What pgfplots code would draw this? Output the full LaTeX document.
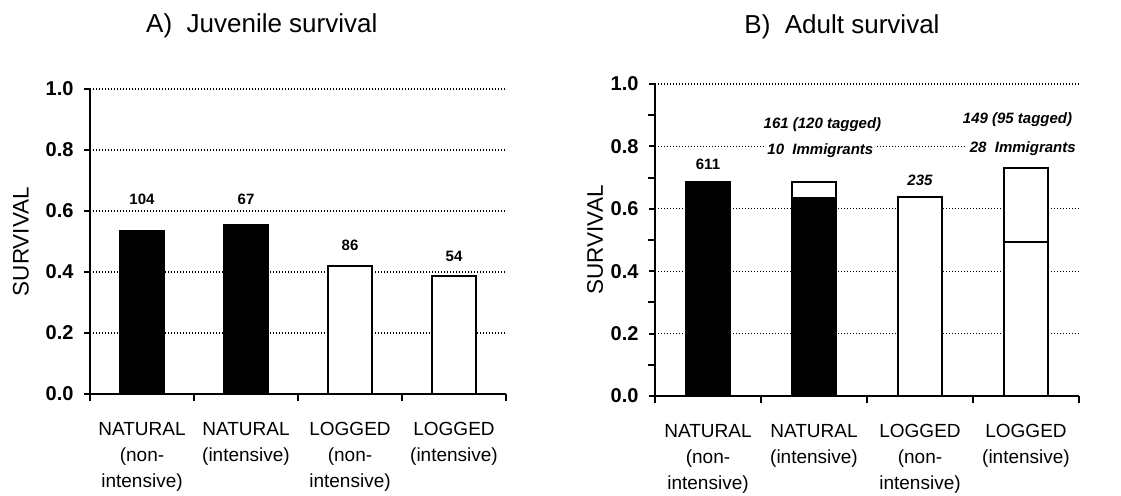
\documentclass[border=0pt]{standalone}
\usepackage{fontspec}
\setmainfont{Liberation Sans}
\usepackage{pgfplots}
\pgfplotsset{compat=1.18}
\begin{document}
\begin{tikzpicture}
\pgfplotsset{
  survax/.style={
    scale only axis,
    clip=false,
    axis x line=bottom, axis y line=left,
    axis line style={-, line width=2.2bp, black},
    xmin=0.5, xmax=4.5, ymin=0, ymax=1,
    xtick={1,2,3,4},
    xticklabels={{NATURAL\\(non-\\intensive)},{NATURAL\\(intensive)},{LOGGED\\(non-\\intensive)},{LOGGED\\(intensive)}},
    major x tick style={draw=none},
    minor xtick={0.5,1.5,2.5,3.5,4.5},
    minor x tick style={draw=black, line width=2bp},
    tick align=outside,
    major tick length=6bp,
    minor tick length=7bp,
    ytick={0,0.2,0.4,0.6,0.8,1.0},
    major y tick style={draw=black, line width=2bp},
    /pgf/number format/assume math mode=true,
    yticklabel style={font=\fontsize{20bp}{24bp}\selectfont\bfseries, xshift=-7bp, /pgf/number format/.cd, fixed, fixed zerofill, precision=1},
    xticklabel style={font=\fontsize{19bp}{26bp}\selectfont, align=center, yshift=-19bp},
    ymajorgrids,
    major grid style={black, line width=1.1bp, dash pattern=on 1.3bp off 1.7bp},
    ylabel={SURVIVAL},
    ylabel style={font=\fontsize{22.5bp}{24bp}\selectfont, anchor=center},
    title style={font=\fontsize{26bp}{30bp}\selectfont, anchor=base},
  },
  barblack/.style={ybar, bar width=44bp, bar shift=0pt, fill=black, draw=black, line width=2bp},
  barwhite/.style={ybar, bar width=44bp, bar shift=0pt, fill=white, draw=black, line width=2bp},
}
% Panel A
\begin{axis}[survax, at={(90bp,102bp)}, anchor=south west, width=416bp, height=305bp,
  title={A)\ \ Juvenile survival},
  title style={at={(axis description cs:0.413,1.164)}},
  ylabel style={at={(axis description cs:-0.166,0.5)}},
]
\addplot[barblack] coordinates {(1,0.534) (2,0.554)};
\addplot[barwhite] coordinates {(3,0.420) (4,0.388)};
\node[font=\fontsize{15bp}{18bp}\selectfont\bfseries] at (axis cs:1,0.639) {104};
\node[font=\fontsize{15bp}{18bp}\selectfont\bfseries] at (axis cs:2,0.639) {67};
\node[font=\fontsize{15bp}{18bp}\selectfont\bfseries] at (axis cs:3,0.486) {86};
\node[font=\fontsize{15bp}{18bp}\selectfont\bfseries] at (axis cs:4,0.451) {54};
\end{axis}
% Panel B
\begin{axis}[survax, at={(655bp,100bp)}, anchor=south west, width=424bp, height=312bp,
  title={B)\ \ Adult survival},
  title style={at={(axis description cs:0.441,1.144)}},
  ylabel style={at={(axis description cs:-0.1415,0.5)}},
  minor ytick={0.1,0.3,0.5,0.7,0.9},
  minor y tick style={draw=black, line width=2bp},
]
\addplot[barblack] coordinates {(1,0.686)};
\addplot[barwhite] coordinates {(2,0.686) (3,0.638) (4,0.730)};
\addplot[barblack] coordinates {(2,0.636)};
\addplot[barwhite] coordinates {(4,0.495)};
\node[font=\fontsize{15bp}{18bp}\selectfont\bfseries] at (axis cs:1,0.741) {611};
\node[font=\fontsize{15bp}{18bp}\selectfont\bfseries\itshape] at (axis cs:3,0.692) {235};
\node[font=\fontsize{15bp}{18bp}\selectfont\bfseries\itshape, fill=white, inner sep=3bp] at (axis cs:2.08,0.870) {161 (120 tagged)};
\node[font=\fontsize{15bp}{18bp}\selectfont\bfseries\itshape, fill=white, inner sep=3bp] at (axis cs:2.06,0.785) {10\ \ Immigrants};
\node[font=\fontsize{15bp}{18bp}\selectfont\bfseries\itshape, fill=white, inner sep=3bp] at (axis cs:3.92,0.885) {149 (95 tagged)};
\node[font=\fontsize{15bp}{18bp}\selectfont\bfseries\itshape, fill=white, inner sep=3bp] at (axis cs:3.97,0.792) {28\ \ Immigrants};
\end{axis}
\pgfresetboundingbox
\path[use as bounding box] (0bp,0bp) rectangle (1121bp,496bp);
\end{tikzpicture}
\end{document}
